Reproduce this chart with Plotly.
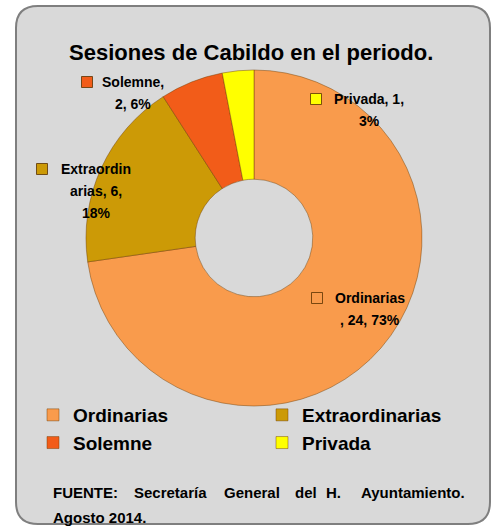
import plotly.graph_objects as go

# ---------------- data ----------------
categories = ["Ordinarias", "Extraordinarias", "Solemne", "Privada"]
values = [24, 6, 2, 1]
percents = [73, 18, 6, 3]
colors = ["#F99B4C", "#CC9A06", "#F25C19", "#FFFF00"]
title_text = "Sesiones de Cabildo en el periodo."
source_words = ["FUENTE:", "Secretaría", "General", "del", "H.", "Ayuntamiento."]
source_line2 = "Agosto 2014."

W, H = 491, 529
FONT = "Liberation Sans Narrow, Arial Narrow, Liberation Sans, Arial, sans-serif"


def px(x):
    return x / W


def py(y):
    return 1 - y / H


fig = go.Figure()

# donut: centre (254, 238), outer radius 168
cx, cy, R = 254, 238, 168
fig.add_trace(go.Pie(
    labels=categories,
    values=values,
    sort=False,
    direction="clockwise",
    rotation=0,
    hole=0.35,
    marker=dict(colors=colors, line=dict(color="rgba(110,60,0,0.45)", width=1)),
    textinfo="none",
    hoverinfo="label+value+percent",
    domain=dict(x=[px(cx - R), px(cx + R)], y=[py(cy + R), py(cy - R)]),
))

# rounded background panel
x0, y0, x1, y1, r = px(16), py(6), px(490), py(524), 22
rx, ry = r / W, r / H
path = (f"M {x0+rx},{y0} L {x1-rx},{y0} Q {x1},{y0} {x1},{y0-ry} "
        f"L {x1},{y1+ry} Q {x1},{y1} {x1-rx},{y1} "
        f"L {x0+rx},{y1} Q {x0},{y1} {x0},{y1+ry} "
        f"L {x0},{y0-ry} Q {x0},{y0} {x0+rx},{y0} Z")
shapes = [dict(type="path", path=path, xref="paper", yref="paper",
               fillcolor="#D9D9D9", line=dict(color="#7F7F7F", width=2), layer="below")]

annotations = []
# title
annotations.append(dict(text=title_text, x=px(251), y=py(52),
                        xref="paper", yref="paper", showarrow=False,
                        font=dict(family=FONT, size=22, color="#000000", weight="bold"),
                        xanchor="center", yanchor="middle"))

# data labels: (centre x, first line centre y, square x, line breaks)
label_pos = {
    "Ordinarias": (370, 298, 317, [10]),
    "Extraordinarias": (96, 169, 42, [10, 19]),
    "Solemne": (133, 82, 87, [8]),
    "Privada": (369, 99, 316, [11]),
}
LINE = 22
for cat, val, pct, col in zip(categories, values, percents, colors):
    full = f"{cat}, {val}, {pct}%"
    lx, ly, sx, breaks = label_pos[cat]
    parts, prev = [], 0
    for b in breaks:
        parts.append(full[prev:b].strip())
        prev = b
    parts.append(full[prev:].strip())
    for i, p in enumerate(parts):
        annotations.append(dict(text=p, x=px(lx), y=py(ly + i * LINE), xref="paper", yref="paper",
                                showarrow=False, xanchor="center", yanchor="middle",
                                font=dict(family=FONT, size=14, color="#000000", weight="bold")))
    s = 5.5
    shapes.append(dict(type="rect", xref="paper", yref="paper",
                       x0=px(sx - s), x1=px(sx + s), y0=py(ly + s), y1=py(ly - s),
                       fillcolor=col, line=dict(color="rgba(90,50,0,0.8)", width=1), layer="above"))

# source text (justified first line)
word_x = [51, 132, 222, 293, 324, 359]
for wd, wx in zip(source_words, word_x):
    annotations.append(dict(text=wd, x=px(wx), y=py(492), xref="paper", yref="paper",
                            showarrow=False, xanchor="left", yanchor="middle",
                            font=dict(family=FONT, size=15, color="#000000", weight="bold")))
annotations.append(dict(text=source_line2, x=px(51), y=py(517), xref="paper", yref="paper",
                        showarrow=False, xanchor="left", yanchor="middle",
                        font=dict(family=FONT, size=15, color="#000000", weight="bold")))

fig.update_layout(
    width=W, height=H,
    margin=dict(l=0, r=0, t=0, b=0),
    paper_bgcolor="#FFFFFF",
    plot_bgcolor="rgba(0,0,0,0)",
    showlegend=True,
    legend=dict(orientation="h", x=px(56), y=py(396), xanchor="left", yanchor="top",
                entrywidth=184, entrywidthmode="pixels",
                font=dict(family=FONT, size=19, color="#000000", weight="bold"),
                bgcolor="rgba(0,0,0,0)", traceorder="normal", itemwidth=30),
    shapes=shapes,
    annotations=annotations,
)

fig.write_html("out.html", config={"displayModeBar": False},
               post_script="document.body.style.margin='0';")
